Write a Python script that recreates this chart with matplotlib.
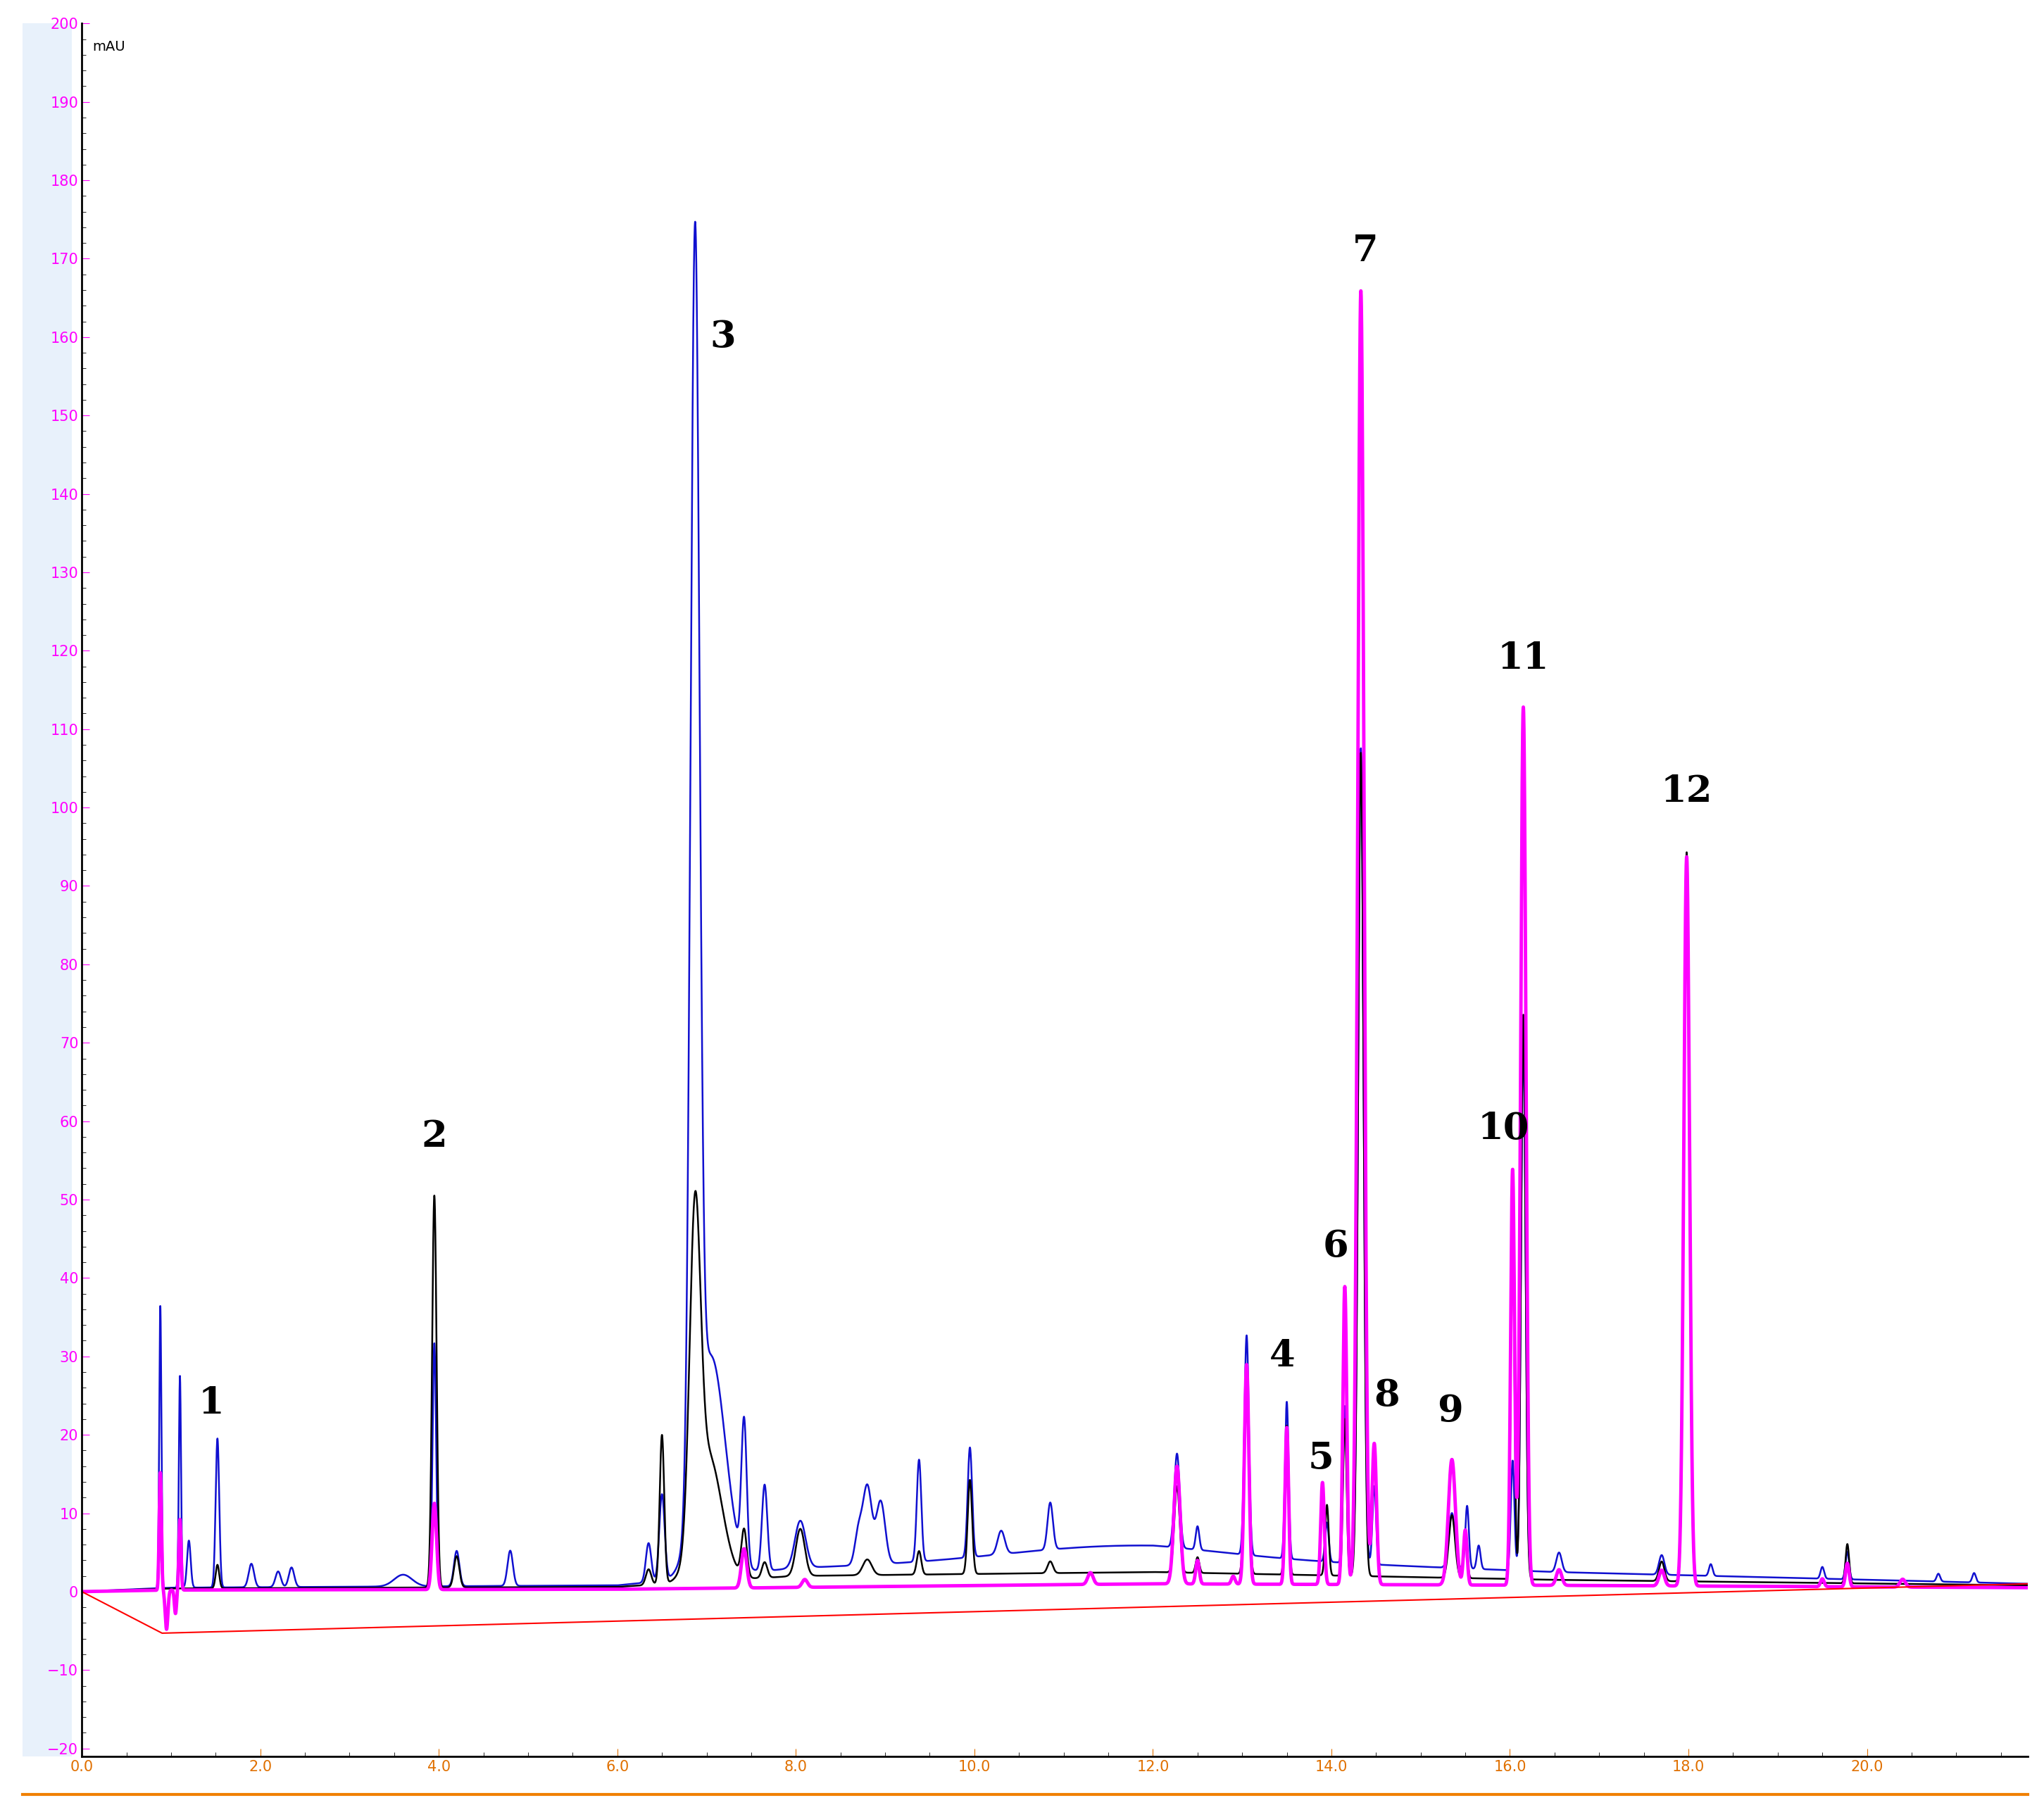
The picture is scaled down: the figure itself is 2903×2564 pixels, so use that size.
import numpy as np
import matplotlib.pyplot as plt

# peak tables: retention time (min), height (mAU), sigma (min)
blue_rt = [0.88, 1.10, 1.20, 1.52, 1.90, 2.20, 2.35, 3.60, 3.95, 4.20, 4.80, 6.35, 6.50, 6.87, 7.05, 7.42, 7.65, 8.05, 8.70, 8.80, 8.95,
           9.38, 9.95, 10.30, 10.85, 11.5, 12.27, 12.50, 13.05, 13.50, 13.95, 14.15, 14.33, 14.48, 15.35, 15.52, 15.65, 16.03, 16.15,
           16.55, 17.70, 18.25, 19.50, 19.78, 20.80, 21.20]
blue_h = [36, 27, 6, 19, 3, 2, 2.5, 1.5, 31, 4.5, 4.5, 5, 11, 158, 28, 18, 11, 6, 4, 10, 8,
          13, 14, 3, 6, 1.5, 12, 3, 28, 20, 5, 20, 104, 10, 7, 8, 3, 14, 68,
          2.5, 2.5, 1.5, 1.5, 3.5, 1, 1.2]
blue_w = [0.012, 0.012, 0.02, 0.02, 0.03, 0.03, 0.03, 0.1, 0.02, 0.03, 0.03, 0.03, 0.03, 0.05, 0.16, 0.03, 0.03, 0.06, 0.04, 0.05, 0.05,
          0.025, 0.025, 0.04, 0.03, 1.2, 0.03, 0.02, 0.025, 0.02, 0.02, 0.02, 0.03, 0.02, 0.035, 0.02, 0.02, 0.02, 0.025,
          0.03, 0.03, 0.02, 0.02, 0.02, 0.02, 0.02]
blue_base = [(0.0, 0.0), (1.0, 0.5), (6.0, 0.8), (8.0, 3.0), (12.0, 4.5), (16.5, 2.5), (21.8, 1.0)]

black_rt = [0.88, 1.52, 3.95, 4.20, 6.35, 6.50, 6.87, 7.02, 7.42, 7.65, 8.05, 8.80, 9.38, 9.95, 10.85, 12.27, 12.50,
            13.05, 13.50, 13.95, 14.15, 14.33, 15.35, 15.50, 16.03, 16.15, 17.70, 17.98, 19.78]
black_h = [7, 3, 50, 4, 2, 19, 40, 16, 6, 2, 6, 2, 3, 12, 1.5, 11, 2, 26, 19, 9, 20, 105, 8, 6, 45, 72, 2.5, 93, 5]
black_w = [0.012, 0.02, 0.025, 0.03, 0.03, 0.025, 0.06, 0.15, 0.03, 0.03, 0.05, 0.05, 0.025, 0.025, 0.03, 0.03, 0.02,
           0.025, 0.02, 0.02, 0.02, 0.03, 0.035, 0.02, 0.02, 0.025, 0.03, 0.03, 0.02]
black_base = [(0.0, 0.0), (1.0, 0.4), (6.0, 0.6), (8.0, 2.0), (12.0, 2.5), (16.5, 1.5), (21.8, 0.8)]

mag_rt = [0.88, 0.95, 1.05, 1.10, 3.95, 7.42, 8.10, 11.30, 12.27, 12.50, 12.90, 13.05, 13.50, 13.90, 14.15, 14.33, 14.48,
          15.35, 15.50, 16.03, 16.15, 16.55, 17.70, 17.98, 19.50, 19.78, 20.40]
mag_h = [15, -5, -3, 9, 11, 5, 1, 1.5, 15, 3, 1, 28, 20, 13, 38, 165, 18, 16, 7, 53, 112, 2, 2, 93, 1, 3, 1]
mag_w = [0.012, 0.015, 0.012, 0.012, 0.025, 0.03, 0.03, 0.03, 0.035, 0.02, 0.02, 0.025, 0.02, 0.02, 0.022, 0.035, 0.025,
         0.04, 0.02, 0.022, 0.03, 0.03, 0.03, 0.032, 0.02, 0.02, 0.03]
mag_base = [(0.0, 0.0), (1.0, 0.2), (6.0, 0.3), (12.0, 1.0), (16.5, 0.8), (21.8, 0.5)]

red_x = [0.0, 0.9, 21.8]
red_y = [0.0, -5.3, 1.0]

peak_names = ["1", "2", "3", "4", "5", "6", "7", "8", "9", "10", "11", "12"]
peak_lx = [1.45, 3.95, 7.18, 13.45, 13.88, 14.05, 14.38, 14.62, 15.33, 15.93, 16.15, 17.98]
peak_ly = [24, 58, 160, 30, 17, 44, 171, 25, 23, 59, 119, 102]

t = np.linspace(0, 21.8, 20000)


def trace(rt, h, w, base):
    bx, by = zip(*base)
    y = np.interp(t, bx, by)
    for r, a, s in zip(rt, h, w):
        y = y + a * np.exp(-0.5 * ((t - r) / s) ** 2)
    return y


fig = plt.figure(figsize=(29.03, 25.64), dpi=100)
band = fig.add_axes([0.011, 0.027, 0.024, 0.960])
band.set_facecolor("#e8f1fb")
band.set_xticks([]); band.set_yticks([])
for s in band.spines.values():
    s.set_visible(False)
ax = fig.add_axes([0.040, 0.027, 0.952, 0.960])
ax.patch.set_alpha(0)

ax.plot(t, trace(blue_rt, blue_h, blue_w, blue_base), color="#1010d0", lw=1.8)
ax.plot(t, trace(black_rt, black_h, black_w, black_base), color="black", lw=1.8)
ax.plot(t, trace(mag_rt, mag_h, mag_w, mag_base), color="#ff00ff", lw=3.5)
ax.plot(red_x, red_y, color="red", lw=1.5)

for n, x, y in zip(peak_names, peak_lx, peak_ly):
    ax.text(x, y, n, ha="center", va="center", fontsize=38, fontweight="bold", family="DejaVu Serif")

ax.text(0.12, 197, "mAU", fontsize=14, va="center")
ax.set_xlim(0, 21.8)
ax.set_ylim(-21, 200)
ax.set_yticks(np.arange(-20, 201, 10))
ax.set_xticks(np.arange(0, 21, 2))
ax.set_xticklabels([f"{v:.1f}" for v in np.arange(0, 21, 2)])
ax.tick_params(axis="y", colors="#ff00ff", labelsize=15, length=8, direction="in")
ax.tick_params(axis="x", colors="#e07000", labelsize=15, length=8, direction="in")
ax.set_xticks(np.arange(0, 21.8, 0.5), minor=True)
ax.set_yticks(np.arange(-20, 201, 2), minor=True)
ax.tick_params(which="minor", length=4, direction="in")
for side in ["top", "right"]:
    ax.spines[side].set_visible(False)
ax.spines["left"].set_linewidth(2)
ax.spines["bottom"].set_linewidth(2)
fig.add_artist(plt.Line2D([0.011, 0.992], [0.006, 0.006], color="#f08000", lw=3))

fig.savefig("out.png")
